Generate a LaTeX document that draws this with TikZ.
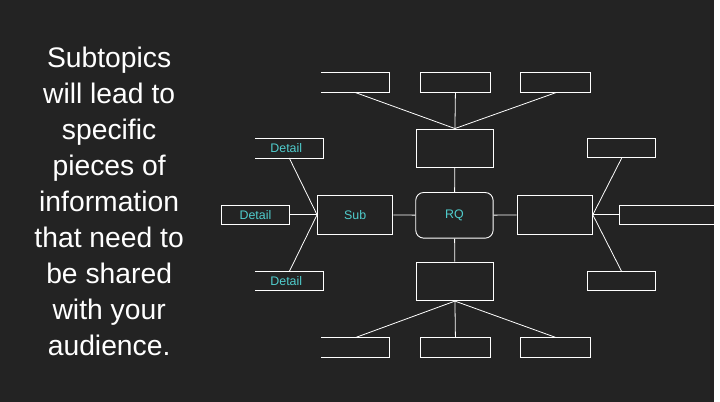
\documentclass[tikz,border=0pt]{standalone}
\usepackage{fontspec}
\setmainfont{Liberation Sans}
\definecolor{lab}{RGB}{80,205,205}
\begin{document}
\begin{tikzpicture}[x=1pt,y=-1pt,
  bx/.style={draw=white,line width=0.9pt,minimum width=#1,inner sep=0pt},
  ln/.style={draw=white,line width=0.8pt},
  lbl/.style={text=lab,font=\fontsize{12.5}{14}\selectfont}]
\fill[fill={rgb,255:red,35;green,35;blue,35}] (0,0) rectangle (720,405);
\node[text=white,font=\fontsize{28.5}{36.2}\selectfont,align=center] (txt) at (110,203) {Subtopics\\will lead to\\specific\\pieces of\\information\\that need to\\be shared\\with your\\audience.};
% central
\node[bx=78pt,minimum height=46pt,rounded corners=8pt,lbl] (rq) at (458,217) {RQ};
\node[bx=77pt,minimum height=39pt] (st) at (458.5,149.5) {};
\node[bx=77pt,minimum height=39pt] (sb) at (458.5,283.5) {};
\node[bx=76pt,minimum height=39pt,lbl] (sl) at (358,216.5) {Sub};
\node[bx=76pt,minimum height=39pt] (sr) at (559,216.5) {};
% top boxes
\node[minimum width=68pt,minimum height=20pt,inner sep=0pt] (t1) at (358,83) {};
\draw[white,line width=0.9pt] (t1.north west) -- (t1.north east) -- (t1.south east) -- (t1.south west);
\node[bx=70pt,minimum height=20pt] (t2) at (459,83) {};
\node[bx=70pt,minimum height=20pt] (t3) at (560,83) {};
% bottom boxes
\node[minimum width=68pt,minimum height=20pt,inner sep=0pt] (b1) at (358,350.5) {};
\draw[white,line width=0.9pt] (b1.north west) -- (b1.north east) -- (b1.south east) -- (b1.south west);
\node[bx=70pt,minimum height=20pt] (b2) at (459,350.5) {};
\node[bx=70pt,minimum height=20pt] (b3) at (560,350.5) {};
% details
\node[minimum width=69pt,minimum height=19pt,inner sep=0pt,lbl] (d1) at (291.5,149.5) {\hspace*{-6pt}Detail};
\draw[white,line width=0.9pt] (d1.north west) -- (d1.north east) -- (d1.south east) -- (d1.south west);
\node[bx=69pt,minimum height=19pt,lbl] (d2) at (257.5,216.5) {Detail};
\node[minimum width=69pt,minimum height=19pt,inner sep=0pt,lbl] (d3) at (291.5,283.5) {\hspace*{-6pt}Detail};
\draw[white,line width=0.9pt] (d3.north west) -- (d3.north east) -- (d3.south east) -- (d3.south west);
% right small
\node[bx=69pt,minimum height=19pt] (r1) at (626.5,149.5) {};
\node[minimum width=100pt,minimum height=19pt,inner sep=0pt] (r2) at (675,216.5) {};
\draw[white,line width=0.9pt] (r2.north east) -- (r2.north west) -- (r2.south west) -- (r2.south east);
\node[bx=69pt,minimum height=19pt] (r3) at (626.5,283.5) {};
% connectors
\draw[ln] (rq) -- (st); \draw[ln] (rq) -- (sb); \draw[ln] (rq) -- (sl); \draw[ln] (rq) -- (sr);
\foreach \t in {t1,t2,t3} \draw[ln] (\t.south) -- (st.north);
\foreach \t in {b1,b2,b3} \draw[ln] (\t.north) -- (sb.south);
\draw[ln] (d1.south) -- (sl.west); \draw[ln] (d2.east) -- (sl.west); \draw[ln] (d3.north) -- (sl.west);
\draw[ln] (r1.south) -- (sr.east); \draw[ln] (r2.west) -- (sr.east); \draw[ln] (r3.north) -- (sr.east);
\end{tikzpicture}
\end{document}
